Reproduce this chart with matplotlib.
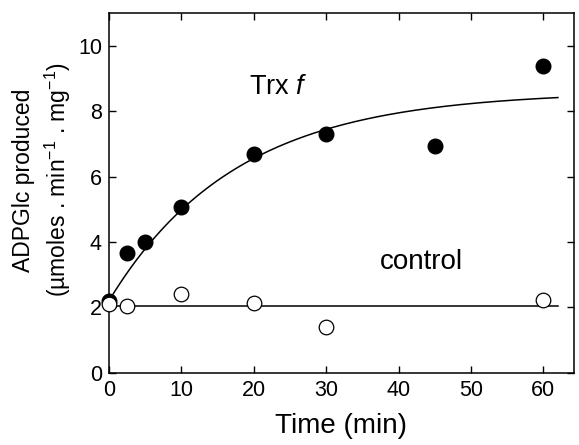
import numpy as np
import matplotlib
matplotlib.use("Agg")
import matplotlib.pyplot as plt

# data
t_trx = [0, 2.5, 5, 10, 20, 30, 45, 60]
y_trx = [2.2, 3.65, 4.0, 5.08, 6.7, 7.3, 6.93, 9.38]
t_ctrl = [0, 2.5, 10, 20, 30, 60]
y_ctrl = [2.1, 2.05, 2.4, 2.15, 1.4, 2.24]

# fitted curves (estimated parameters)
fit_y0 = 2.2    # start value of the fit
fit_amp = 6.4   # rise amplitude
fit_k = 0.057   # rate, 1/min
fit_tmax = 62
ctrl_level = 2.05

plt.rcParams['font.family'] = ['Liberation Sans', 'DejaVu Sans']
plt.rcParams['mathtext.fontset'] = 'custom'
plt.rcParams['mathtext.rm'] = 'Liberation Sans'
plt.rcParams['mathtext.it'] = 'Liberation Sans:italic'

fig = plt.figure(figsize=(5.79, 4.45), dpi=100)
ax = fig.add_axes([0.188, 0.162, 0.803, 0.809])

tt = np.linspace(0, fit_tmax, 200)
ax.plot(tt, fit_y0 + fit_amp*(1 - np.exp(-fit_k*tt)), color='black', lw=1.1, zorder=2)
ax.plot([0, fit_tmax], [ctrl_level, ctrl_level], color='black', lw=1.1, zorder=2)

ax.plot(t_trx, y_trx, 'o', color='black', ms=10.5, zorder=3, clip_on=False)
ax.plot(t_ctrl, y_ctrl, 'o', mfc='white', mec='black', mew=0.9, ms=10.5, zorder=4, clip_on=False)

ax.text(19.4, 8.75, 'Trx $f$', fontsize=19.5, va='center')
ax.text(37.4, 3.4, 'control', fontsize=20, va='center')

ax.set_xlim(0, 64.2)
ax.set_ylim(0, 11)
ax.set_xticks(range(0, 61, 10))
ax.set_yticks(range(0, 11, 2))
ax.tick_params(direction='in', top=True, right=True, labeltop=False, labelright=False,
               length=5, width=1, labelsize=15.5, pad=5)
for s in ax.spines.values():
    s.set_linewidth(1.1)

ax.set_xlabel('Time (min)', fontsize=20, labelpad=9)
ax.set_ylabel('ADPGlc produced\n(µmoles . min$^{-1}$ . mg$^{-1}$)', fontsize=16.5,
              linespacing=1.35)
ax.yaxis.set_label_coords(-0.077, 0.536)

fig.savefig('out.png', dpi=100)
